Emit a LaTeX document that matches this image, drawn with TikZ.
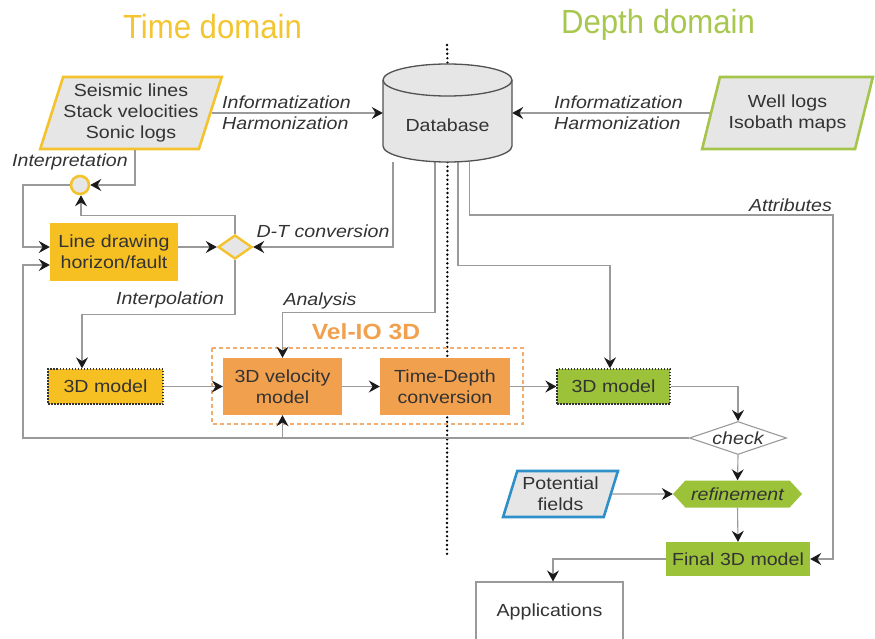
\documentclass[tikz,border=0pt]{standalone}
\usepackage{fontspec}
\setmainfont{Liberation Sans}[FakeStretch=1.12]
\newfontfamily\titlefont{Liberation Sans}[FakeStretch=0.93]
\usetikzlibrary{arrows.meta,shapes.geometric,shapes.symbols,calc}
\definecolor{yelB}{HTML}{F4C22C}
\definecolor{yelF}{HTML}{F6BF22}
\definecolor{orF}{HTML}{F1A04E}
\definecolor{orD}{HTML}{F2AE6E}
\definecolor{grF}{HTML}{9CC23A}
\definecolor{grB}{HTML}{A5C54A}
\definecolor{blB}{HTML}{2E8FC9}
\definecolor{gF}{HTML}{E6E6E6}
\definecolor{lnC}{HTML}{9A9A9A}
\definecolor{txC}{HTML}{333333}
\definecolor{arC}{HTML}{1A1A1A}
\definecolor{tTime}{HTML}{F2C531}
\definecolor{tDepth}{HTML}{A8C74E}
\begin{document}
\begin{tikzpicture}[x=1pt,y=-1pt,
  base/.style={font=\fontsize{17.5}{21}\selectfont, text=txC, align=center, inner sep=0pt},
  lab/.style={font=\fontsize{17.5}{21}\selectfont\itshape, text=txC, align=left, inner sep=0pt},
  conn/.style={draw=lnC, line width=1.1pt, -{Stealth[length=11pt,width=12pt,inset=3.8pt,color=arC]}},
  para/.style={base, trapezium, trapezium stretches=true, fill=gF, line width=2.6pt},
  rbox/.style={base, rectangle},
  dotbox/.style={base, rectangle, draw=txC, line width=1.3pt, dash pattern=on 1.5pt off 1.5pt},
  divider/.style={draw=black, line width=2.6pt, line cap=round, dash pattern=on 0pt off 4.4pt},
  ttl/.style={font=\titlefont\fontsize{33.5}{38}\selectfont, inner sep=0}
]
\useasboundingbox (0,0) rectangle (875,639);

% titles
\node[ttl, text=tTime] (ttime) at (212.5,27) {Time domain};
\node[ttl, text=tDepth] (tdepth) at (658,25) {Depth domain};

% helper coordinates
\coordinate (railL) at (23,438);
\coordinate (railR) at (833,215);
\coordinate (divTop) at (447,45);
\coordinate (divBot) at (447,555);

% database helper node
\node[minimum width=129pt, minimum height=99pt, inner sep=0] (db) at (447.5,112.5) {};

% divider
\draw[divider] (divTop) -- (db.north);
\draw[divider] (db.south) -- (divBot);

% nodes
\node[para, draw=yelB, trapezium left angle=68.7, trapezium right angle=111.3,
      minimum width=182pt, minimum height=72pt] (seis) at (131,113)
      {Seismic lines\\Stack velocities\\Sonic logs};
\node[para, draw=grB, trapezium left angle=67.4, trapezium right angle=112.6,
      minimum width=171pt, minimum height=72pt] (well) at (787.5,113)
      {Well logs\\Isobath maps};
\node[para, draw=blB, trapezium left angle=69.7, trapezium right angle=110.3,
      minimum width=115pt, minimum height=46pt] (pot) at (560.5,494)
      {Potential\\fields};

\node[circle, draw=yelB, fill=gF, line width=2.6pt, minimum size=18pt, inner sep=0] (interp) at (80,185) {};
\node[diamond, draw=yelB, fill=gF, line width=2.4pt, minimum width=34pt, minimum height=24pt, inner sep=0] (dt) at (235,247) {};

\node[rbox, fill=yelF, minimum width=128pt, minimum height=58pt] (ld) at (114,252) {Line drawing\\horizon/fault};
\node[dotbox, fill=yelF, minimum width=115pt, minimum height=35pt] (m3y) at (105.5,386.5) {3D model};

\draw[draw=orD, line width=1.6pt, dash pattern=on 4pt off 3pt] (212,348) rectangle (523,424);
\node[font=\fontsize{22}{26}\selectfont\bfseries, text=orF, inner sep=0] (velio) at (366,332) {Vel-IO 3D};

\node[rbox, fill=orF, minimum width=119pt, minimum height=57pt] (vel) at (282.5,386.5) {3D velocity\\model};
\node[rbox, fill=orF, minimum width=130pt, minimum height=57pt] (td) at (445,386.5) {Time-Depth\\conversion};
\node[dotbox, fill=grF, minimum width=113pt, minimum height=35pt] (m3g) at (613.5,386.5) {3D model};

\node[base, diamond, aspect=2.9, draw=lnC, fill=white, line width=1.1pt, minimum width=97pt, minimum height=33pt, font=\fontsize{17.5}{21}\selectfont\itshape] (check) at (738,438) {check};
\node[base, signal, signal to=east and west, signal pointer angle=95, fill=grF, minimum width=129pt, minimum height=27pt, font=\fontsize{17.5}{21}\selectfont\itshape] (ref) at (737.5,494) {refinement};
\node[rbox, fill=grF, minimum width=144pt, minimum height=34pt] (final) at (738,559) {Final 3D model};
\node[rbox, draw=lnC, fill=white, line width=1.1pt, minimum width=147pt, minimum height=60pt] (apps) at (549.5,612) {Applications};

% connectors
\draw[conn] (seis.east) -- (seis.east -| db.west);
\draw[conn] (well.west) -- (well.west -| db.east);
\node[lab, anchor=west] (l1) at (222,113) {Informatization\\Harmonization};
\node[lab, anchor=west] (l2) at (554,113) {Informatization\\Harmonization};

\draw[conn] ([xshift=4pt]seis.south) |- (interp.east);
\node[lab, anchor=west] (l3) at (12,162) {Interpretation};
\draw[conn] (interp.west) -- (interp.west -| railL) |- ([yshift=5pt]ld.west);
\draw[conn] (check.west) -- (railL) |- ([yshift=-13pt]ld.west);
\draw[conn] (vel.south |- railL) -- (vel.south);

\draw[conn] (ld.east |- dt.west) -- (dt.west);
\draw[conn] ([xshift=-54.5pt]db.south) |- (dt.east);
\node[lab] (l4) at (323,231) {D-T conversion};
\draw[conn] (dt.north) -- ++(0,-18) -| ([xshift=1pt]interp.south);
\draw[conn] (dt.south) -- ++(0,54) -| ([xshift=-23.5pt]m3y.north);
\node[lab] (l5) at (170,300) {Interpolation};

\draw[conn] (m3y.east) -- (vel.west);
\draw[conn] (vel.east) -- (td.west);
\draw[conn] (td.east) -- (m3g.west);

\draw[conn] ([xshift=-12.5pt]db.south) -- ++(0,150) -| (vel.north);
\node[lab] (l6) at (320,301) {Analysis};
\draw[conn] ([xshift=10.5pt]db.south) -- ++(0,103) -| ([xshift=-3.5pt]m3g.north);
\draw[conn] ([xshift=22pt]db.south) |- (railR) |- (final.east);
\node[lab, anchor=east] (l7) at (832,205) {Attributes};

\draw[conn] (m3g.east) -| (check.north);
\draw[conn] (check.south) -- (ref.north);
\draw[conn] (pot.east) -- (ref.west);
\draw[conn] (ref.south) -- (final.north);
\draw[conn] (final.west) -| ([xshift=3.5pt]apps.north);

% database cylinder
\draw[fill=gF, draw=txC!85, line width=1.3pt] (383,80) -- (383,146)
  arc[start angle=180, end angle=0, x radius=64.5, y radius=16] -- (512,80)
  arc[start angle=0, end angle=-180, x radius=64.5, y radius=16] -- cycle;
\draw[draw=txC!85, line width=1.3pt] (383,80) arc[start angle=180, end angle=0, x radius=64.5, y radius=16];
\node[base] (dbt) at (447.5,125) {Database};
\end{tikzpicture}
\end{document}
